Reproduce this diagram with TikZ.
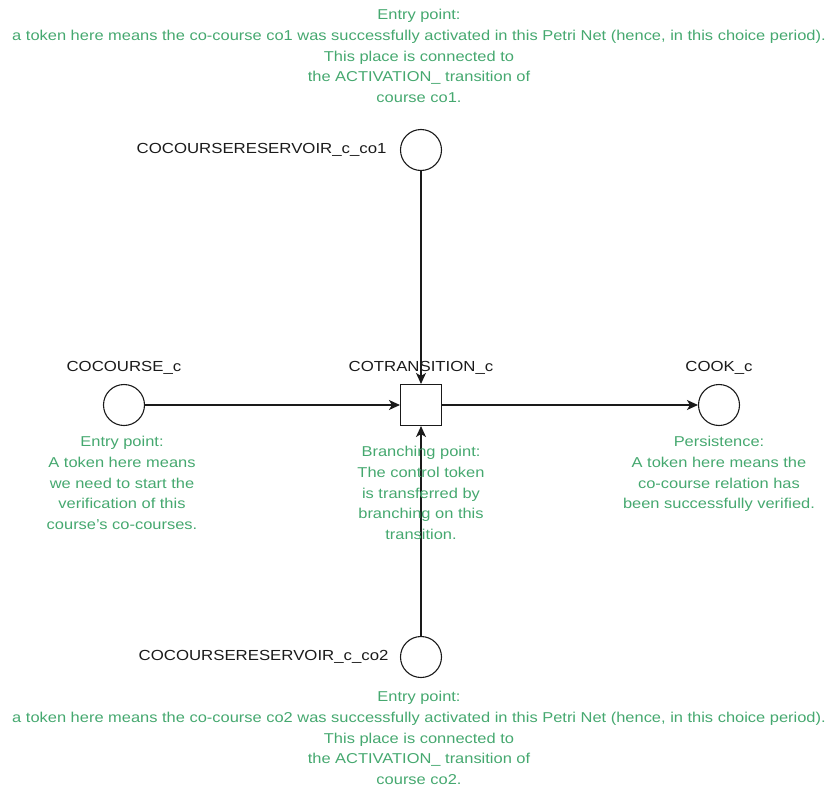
\documentclass[tikz,border=0pt]{standalone}
\usepackage{fontspec}
\setmainfont[FakeStretch=1.15]{Liberation Sans}
\usetikzlibrary{arrows.meta, positioning}
\definecolor{cgreen}{HTML}{45A86F}
\definecolor{cblack}{HTML}{1A1A1A}
\tikzset{
  every picture/.style={line width=1.1pt},
  place/.style={circle, draw=cblack, minimum size=41pt, inner sep=0pt},
  trans/.style={rectangle, draw=cblack, minimum size=41pt, inner sep=0pt},
  lbl/.style={font=\fontsize{14.6}{17}\selectfont, text=cblack, inner sep=0pt},
  note/.style={font=\fontsize{14.3}{20.6}\selectfont, text=cgreen, align=center, inner sep=0pt},
  arc/.style={-{Stealth[length=11pt, width=10pt, inset=3pt]}, draw=cblack},
}

\begin{document}
\begin{tikzpicture}[x=1pt, y=-1pt]
  \useasboundingbox (0,0) rectangle (830,787);
  % places and the one transition
  \node[place] (reservoirA) at (421,150) {};
  \node[place] (reservoirB) at (421,657) {};
  \node[place] (cocourse) at (124,405) {};
  \node[trans] (cotrans) at (421,405) {};
  \node[place] (cook) at (719,405) {};

  % names
  \node[lbl, anchor=east] (nameA) at (387,150) {COCOURSERESERVOIR\_c\_co1};
  \node[lbl, anchor=east] (nameB) at (389,657) {COCOURSERESERVOIR\_c\_co2};
  \node[lbl] (namecc) at (124,368) {COCOURSE\_c};
  \node[lbl] (namect) at (421,368) {COTRANSITION\_c};
  \node[lbl] (nameok) at (719,368) {COOK\_c};

  % arcs
  \draw[arc] (reservoirA) -- (cotrans);
  \draw[arc] (reservoirB) -- (cotrans);
  \draw[arc] (cocourse) -- (cotrans);
  \draw[arc] (cotrans) -- (cook);

  % comments in green
  \node[note, anchor=north] (noteA) at (419,9) {Entry point:\\a token here means the co-course co1 was successfully activated in this Petri Net (hence, in this choice period).\\This place is connected to\\the ACTIVATION\_ transition of\\course co1.};
  \node[note, anchor=north] (noteB) at (419,691) {Entry point:\\a token here means the co-course co2 was successfully activated in this Petri Net (hence, in this choice period).\\This place is connected to\\the ACTIVATION\_ transition of\\course co2.};
  \node[note, anchor=north] (notecc) at (122,436) {Entry point:\\A token here means\\we need to start the\\verification of this\\course's co-courses.};
  \node[note, anchor=north] (notect) at (421,446) {Branching point:\\The control token\\is transferred by\\branching on this\\transition.};
  \node[note, anchor=north] (noteok) at (719,436) {Persistence:\\A token here means the\\co-course relation has\\been successfully verified.};
\end{tikzpicture}
\end{document}
